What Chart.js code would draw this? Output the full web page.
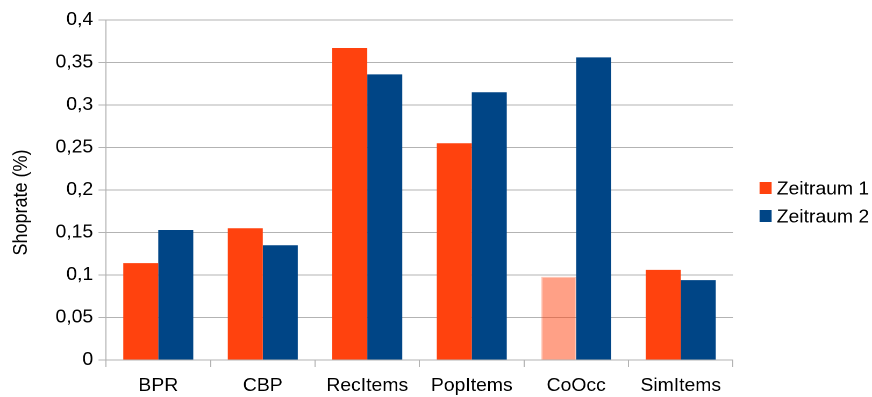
<!DOCTYPE html>
<html>
<head>
<meta charset="utf-8">
<script src="https://cdn.jsdelivr.net/npm/chart.js@4.4.1/dist/chart.umd.min.js"></script>
<style>
  html, body { margin: 0; padding: 0; background: #ffffff; overflow: hidden; }
  #chart { display: block; }
</style>
</head>
<body>
<!-- drawn on a slightly narrower logical canvas and widened by CSS, so the lettering comes out broad -->
<canvas id="chart" width="811" height="397" style="width:872px;height:397px"></canvas>
<script>
// ---- data ----
const categories = ['BPR', 'CBP', 'RecItems', 'PopItems', 'CoOcc', 'SimItems'];
const seriesNames = ['Zeitraum 1', 'Zeitraum 2'];
const zeitraum1 = [0.114, 0.155, 0.367, 0.255, 0.098, 0.106];
const zeitraum2 = [0.153, 0.135, 0.336, 0.315, 0.356, 0.094];
const yTickValues = [0, 0.05, 0.1, 0.15, 0.2, 0.25, 0.3, 0.35, 0.4];
const yAxisTitle = 'Shoprate (%)';
const fadedCategory = 'CoOcc';

// ---- styling ----
const FONT = '"Liberation Sans", Arial, sans-serif';
const FONT_SIZE = 18;
const ORANGE = '#ff420e';
const ORANGE_FADED = 'rgba(255, 66, 14, 0.5)';
const ORANGE_FADED_EDGE = 'rgba(255, 66, 14, 0.3)';
const BLUE = '#004586';
const GRID = '#b3b3b3';
const TEXT = '#000000';

Chart.defaults.font.family = FONT;
Chart.defaults.color = TEXT;

const germanNumber = v => String(Math.round(v * 100) / 100).replace('.', ',');
const isFaded = c => categories[c.dataIndex] === fadedCategory;

// vertical axis title and the legend to the right of the plot
const sideTexts = {
  id: 'sideTexts',
  afterDraw(chart) {
    const { ctx, chartArea } = chart;
    ctx.save();
    ctx.font = FONT_SIZE + 'px ' + FONT;
    ctx.fillStyle = TEXT;

    // axis title, rotated
    ctx.save();
    ctx.translate(20.2, 202.5);
    ctx.rotate(-Math.PI / 2);
    ctx.textAlign = 'center';
    ctx.textBaseline = 'middle';
    ctx.fillText(yAxisTitle, 0, 0);
    ctx.restore();

    // legend
    const x = chartArea.right + 24.7;
    ctx.textBaseline = 'alphabetic';
    ctx.textAlign = 'left';
    chart.data.datasets.forEach((ds, i) => {
      const top = 182 + i * 28;
      ctx.fillStyle = ds.legendColor;
      ctx.fillRect(x, top, 11.2, 12);
      ctx.fillStyle = TEXT;
      ctx.fillText(ds.label, x + 16, top + 12.6);
    });
    ctx.restore();
  }
};

new Chart(document.getElementById('chart'), {
  type: 'bar',
  data: {
    labels: categories,
    datasets: [
      {
        label: seriesNames[0],
        data: zeitraum1,
        legendColor: ORANGE,
        backgroundColor: c => (isFaded(c) ? ORANGE_FADED : ORANGE),
        borderColor: c => (isFaded(c) ? ORANGE_FADED_EDGE : ORANGE),
        borderWidth: c => (isFaded(c) ? 1.2 : 0)
      },
      {
        label: seriesNames[1],
        data: zeitraum2,
        legendColor: BLUE,
        backgroundColor: BLUE,
        borderWidth: 0
      }
    ]
  },
  options: {
    responsive: false,
    animation: false,
    devicePixelRatio: 2,
    layout: { padding: { top: 20, right: 129.3, bottom: 0, left: 0 } },
    categoryPercentage: 0.67,
    barPercentage: 1.0,
    plugins: {
      legend: { display: false },
      tooltip: { enabled: false }
    },
    scales: {
      x: {
        afterFit: s => { s.height = 37; },
        border: { display: true, color: GRID, width: 1 },
        grid: {
          offset: true,
          drawTicks: true,
          tickLength: 7,
          tickColor: GRID,
          color: c => (c.index === categories.length ? GRID : 'rgba(0,0,0,0)'),
          lineWidth: 1
        },
        ticks: {
          font: { size: FONT_SIZE },
          color: TEXT,
          padding: 8,
          maxRotation: 0
        }
      },
      y: {
        min: 0,
        max: 0.4,
        afterBuildTicks: s => { s.ticks = yTickValues.map(v => ({ value: v })); },
        afterFit: s => { s.width = 98.6; },
        border: { display: true, color: GRID, width: 1 },
        grid: {
          color: GRID,
          lineWidth: 1,
          drawTicks: true,
          tickLength: 7,
          tickColor: GRID
        },
        ticks: {
          font: { size: FONT_SIZE },
          color: TEXT,
          padding: 5,
          callback: v => germanNumber(v)
        },
        title: { display: false }
      }
    }
  },
  plugins: [sideTexts]
});
</script>
</body>
</html>
